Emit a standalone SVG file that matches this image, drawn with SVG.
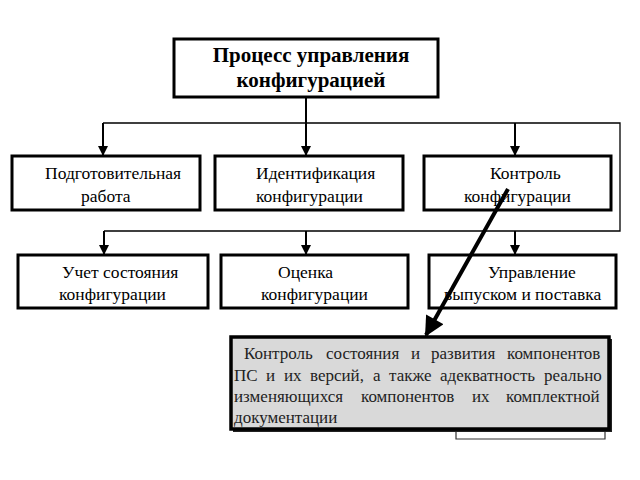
<svg xmlns="http://www.w3.org/2000/svg" width="640" height="480" viewBox="0 0 640 480">
<defs>
<marker id="ah" viewBox="0 0 10 10" refX="10" refY="5" markerWidth="10" markerHeight="10" markerUnits="userSpaceOnUse" orient="auto"><path d="M0,0 L10,5 L0,10 z" fill="#000"/></marker>
<marker id="big" viewBox="0 0 10 10" refX="9" refY="5" markerWidth="24" markerHeight="20" markerUnits="userSpaceOnUse" orient="auto"><path d="M0,0 L10,5 L0,10 z" fill="#000"/></marker>
<style>
.box{fill:#fff;stroke:#000;stroke-width:3}
.bus{fill:none;stroke:#000;stroke-width:1.3}
.arr{stroke:#000;stroke-width:2;fill:none}
</style>
</defs>
<rect width="640" height="480" fill="#fff"/>
<g id="connectors">
<polyline class="bus" points="103,123 620,123 620,231 104,231"/>
<line class="arr" x1="306" y1="97" x2="306" y2="156" marker-end="url(#ah)"/>
<line class="arr" x1="103" y1="123" x2="103" y2="156" marker-end="url(#ah)"/>
<line class="arr" x1="515" y1="123" x2="515" y2="156" marker-end="url(#ah)"/>
<line class="arr" x1="104" y1="231" x2="104" y2="255" marker-end="url(#ah)"/>
<line class="arr" x1="306" y1="231" x2="306" y2="255" marker-end="url(#ah)"/>
<line class="arr" x1="515" y1="231" x2="515" y2="255" marker-end="url(#ah)"/>
<polyline points="456,430 456,439 605,439 605,430" fill="none" stroke="#333" stroke-width="1.2"/>
</g>
<g id="root">
<rect class="box" x="174" y="39" width="264" height="58"/>
<text x="311" y="62" text-anchor="middle" font-family="Liberation Serif" font-size="21" font-weight="bold">Процесс управления</text>
<text x="311" y="87" text-anchor="middle" font-family="Liberation Serif" font-size="21" font-weight="bold">конфигурацией</text>
</g>
<g id="n1">
<rect class="box" x="12" y="156" width="188" height="54"/>
<text x="45" y="179" font-family="Liberation Serif" font-size="17.5">Подготовительная</text>
<text x="81" y="202" font-family="Liberation Serif" font-size="17.5">работа</text>
</g>
<g id="n2">
<rect class="box" x="215" y="156" width="188" height="54"/>
<text x="256" y="179" font-family="Liberation Serif" font-size="17.5">Идентификация</text>
<text x="256" y="202" font-family="Liberation Serif" font-size="17.5">конфигурации</text>
</g>
<g id="n3">
<rect class="box" x="424" y="156" width="187" height="54"/>
<text x="490" y="179" font-family="Liberation Serif" font-size="17.5">Контроль</text>
<text x="464" y="202" font-family="Liberation Serif" font-size="17.5">конфигурации</text>
</g>
<g id="n4">
<rect class="box" x="18" y="255" width="190" height="53"/>
<text x="62" y="278" font-family="Liberation Serif" font-size="17.5">Учет состояния</text>
<text x="59" y="300" font-family="Liberation Serif" font-size="17.5">конфигурации</text>
</g>
<g id="n5">
<rect class="box" x="221" y="255" width="187" height="53"/>
<text x="278" y="278" font-family="Liberation Serif" font-size="17.5">Оценка</text>
<text x="261" y="300" font-family="Liberation Serif" font-size="17.5">конфигурации</text>
</g>
<g id="n6">
<rect class="box" x="429" y="255" width="187" height="53"/>
<text x="488" y="278" font-family="Liberation Serif" font-size="17.5">Управление</text>
<text x="444" y="300" font-family="Liberation Serif" font-size="17.5">выпуском и поставка</text>
</g>
<g id="note">
<rect x="233" y="339" width="379" height="93" fill="#222"/>
<rect x="231" y="337" width="378" height="92" fill="#d9d9d9" stroke="#000" stroke-width="3.5"/>
<text y="359" font-family="Liberation Serif" font-size="17" fill="#222"><tspan x="244">Контроль</tspan><tspan x="326">состояния</tspan><tspan x="411">и</tspan><tspan x="431">развития</tspan><tspan x="507">компонентов</tspan></text>
<text y="381" font-family="Liberation Serif" font-size="17" fill="#222"><tspan x="234">ПС</tspan><tspan x="266">и</tspan><tspan x="284">их</tspan><tspan x="310">версий,</tspan><tspan x="373">а</tspan><tspan x="389">также</tspan><tspan x="440">адекватность</tspan><tspan x="544">реально</tspan></text>
<text y="402" font-family="Liberation Serif" font-size="17" fill="#222"><tspan x="234">изменяющихся</tspan><tspan x="361">компонентов</tspan><tspan x="472">их</tspan><tspan x="506">комплектной</tspan></text>
<text x="234" y="423" font-family="Liberation Serif" font-size="17" fill="#222">документации</text>
</g>
<g id="pointer">
<line x1="508" y1="189" x2="426" y2="335" stroke="#000" stroke-width="4" marker-end="url(#big)"/>
</g>
</svg>
